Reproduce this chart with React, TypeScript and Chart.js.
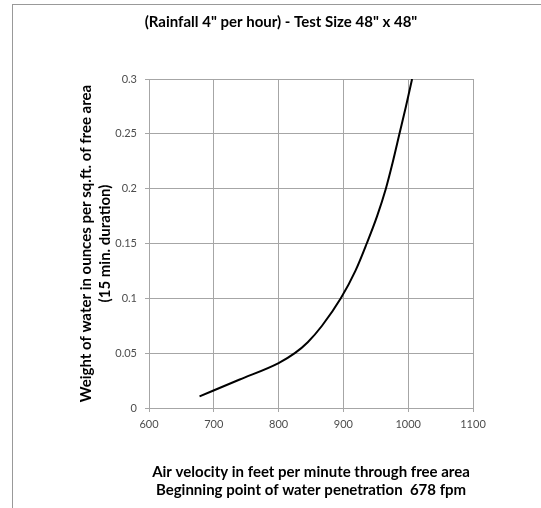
import React, { useEffect, useRef } from "react";
import { Chart, registerables } from "chart.js";

Chart.register(...registerables);

const velocity = [678, 740, 800, 825, 845, 867, 896, 918.5, 936, 952, 965.5, 976.5, 986.5, 996.5, 1006];
const weight = [0.0106, 0.026, 0.041, 0.05, 0.06, 0.075, 0.1, 0.125, 0.15, 0.175, 0.2, 0.225, 0.25, 0.275, 0.3];
const chartTitle = '(Rainfall 4" per hour) - Test Size 48" x 48"';
const xTitle = ["Air velocity in feet per minute through free area", "Beginning point of water penetration  678 fpm"];
const yTitle = ["Weight of water in ounces per sq.ft. of free area", "(15 min. duration)"];

const FONT = "Lato, 'Open Sans', sans-serif";

export default function App() {
  const ref = useRef<HTMLCanvasElement>(null);
  useEffect(() => {
    if (!ref.current) return;
    const chart = new Chart(ref.current, {
      type: "scatter",
      data: {
        datasets: [
          {
            data: velocity.map((v, i) => ({ x: v, y: weight[i] })),
            showLine: true,
            borderColor: "#000",
            borderWidth: 2,
            pointRadius: 0,
            cubicInterpolationMode: "monotone",
            yAxisID: "y",
          },
        ],
      },
      options: {
        animation: false,
        responsive: false,
        maintainAspectRatio: false,
        layout: { padding: { left: 21, right: 0, top: 0, bottom: 0 } },
        plugins: {
          legend: { display: false },
          tooltip: { enabled: false },
          title: {
            display: true,
            text: chartTitle,
            color: "#000",
            font: { family: FONT, size: 15, weight: "bold", lineHeight: 1.2 },
            padding: { top: 13, bottom: 48 },
          },
        },
        scales: {
          x: {
            type: "linear",
            min: 600,
            max: 1100,
            ticks: {
              stepSize: 100,
              color: "#4d4d4d",
              font: { family: FONT, size: 11 },
              padding: 6,
              maxRotation: 0,
              callback: (v: any) => String(v),
            },
            grid: { color: "#a6a6a6", tickLength: 4, lineWidth: 1 },
            border: { color: "#a6a6a6" },
            title: {
              display: true,
              text: xTitle,
              color: "#000",
              font: { family: FONT, size: 15, weight: "bold", lineHeight: 1.2 },
              padding: { top: 0, bottom: 9 },
            },
            afterFit: (s: any) => {
              s.height = 100;
            },
          },
          y: {
            type: "linear",
            position: "left",
            min: 0,
            max: 0.3,
            ticks: {
              stepSize: 0.05,
              color: "#4d4d4d",
              font: { family: FONT, size: 11 },
              padding: 8,
              callback: (v: any) => String(Math.round(v * 100) / 100),
            },
            grid: { color: "#a6a6a6", tickLength: 4, lineWidth: 1 },
            border: { color: "#a6a6a6" },
            title: {
              display: true,
              text: yTitle,
              color: "#000",
              font: { family: FONT, size: 15, weight: "bold", lineHeight: 1.27 },
              padding: { top: 56, bottom: 0 },
            },
            afterFit: (s: any) => {
              s.width = 128;
            },
          },
          y2: {
            type: "linear",
            position: "right",
            min: 0,
            max: 1,
            ticks: { display: false },
            grid: { display: false },
            border: { display: false },
            afterFit: (s: any) => {
              s.width = 68;
            },
          },
        },
      } as any,
    });
    return () => chart.destroy();
  }, []);
  return (
    <div style={{ position: "absolute", left: 0, top: 0, width: 541, height: 508, background: "#fff" }}>
      <div
        style={{
          position: "absolute",
          left: 12,
          top: 4,
          right: 0,
          bottom: 0,
          borderTop: "1px solid #999",
          borderLeft: "1px solid #999",
        }}
      />
      <canvas ref={ref} width={541} height={508} style={{ position: "absolute", left: 0, top: 0 }} />
    </div>
  );
}
